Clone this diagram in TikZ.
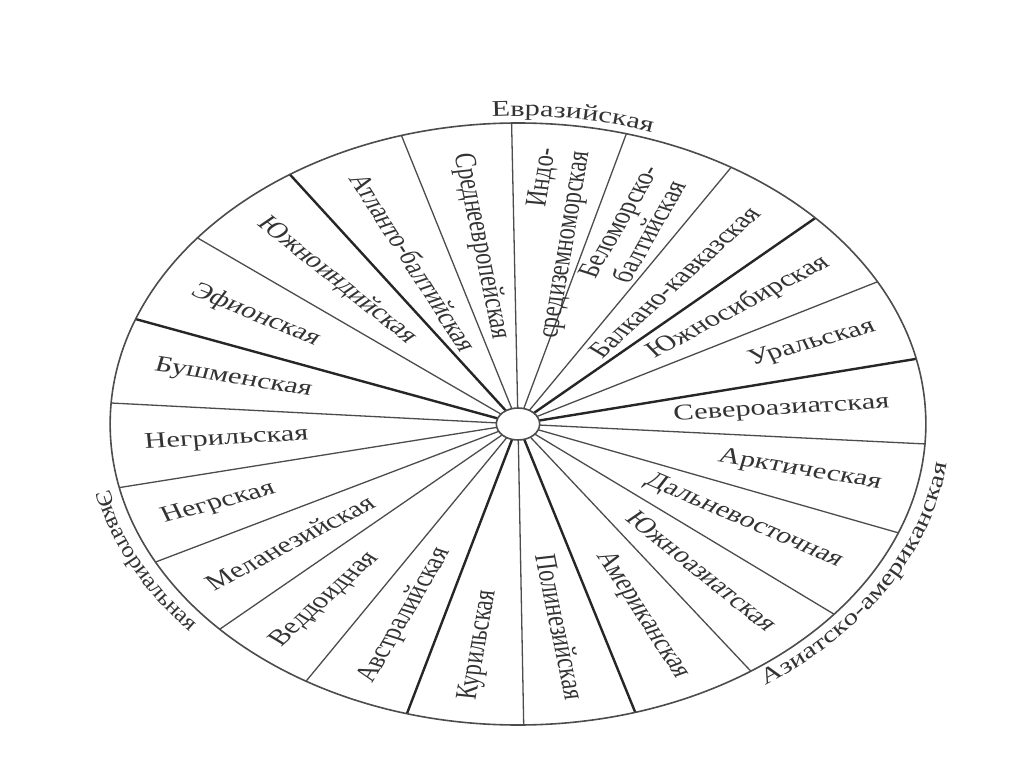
\documentclass[tikz,border=0pt]{standalone}
\usepackage{fontspec}
\setmainfont{Liberation Serif}
\newfontfamily\eurfont[FakeStretch=1.35]{Liberation Serif}
\newfontfamily\asfont[FakeStretch=1.3]{Liberation Serif}
\newfontfamily\eqfont[FakeStretch=1.1]{Liberation Serif}
\usetikzlibrary{decorations.text}
\tikzset{
  lab/.style={font=\fontsize{22.5}{25}\selectfont, text=black!80, inner sep=0pt},
  rim/.style={draw=black!70, line width=1.6pt},
  spokeA/.style={draw=black!70, line width=1.3pt},
  spokeB/.style={draw=black!85, line width=2.4pt},
}
\begin{document}
\begin{tikzpicture}[x=1pt,y=1pt]
\fill[white] (0,-767) rectangle (1024,0);
\useasboundingbox (0,-767) rectangle (1024,0);
\coordinate (C) at (518,-424);
\begin{scope}[shift={(C)}, xscale=1.355, transform shape]
  \coordinate (O) at (0,0);
  \foreach \a/\n in {90.9/1,74.6/2,58.5/3,43.2/4,28.2/5,12.5/6,-3.8/7,-21.2/8,-39.2/9,-55.2/10,-73.3/11,-89.2/12,-105.8/13,-121.3/14,-137.0/15,-152.7/16,-167.8/17,176.0/18,159.6/19,141.8/20,124.0/21,106.6/22}
    \coordinate (s\n) at (\a:301);
  \foreach \n in {1,2,3,5,7,8,9,10,12,14,15,16,17,18,20,22}
    \draw[spokeA] (O) -- (s\n);
  \foreach \n in {4,6,11,13,19,21}
    \draw[spokeB] (O) -- (s\n);
  \draw[rim] (O) circle[radius=301];
  \draw[rim, fill=white] (O) circle[radius=16];
  % right half, reading outward
  \node[lab, rotate=82.75, align=right] (indo) at (82.75:182) {Индо-\\средиземноморская};
  \node[lab, rotate=66.55, align=center] (belo) at (66.55:215) {Беломорско-\\балтийская};
  \node[lab, rotate=50.85] (balk) at (50.85:183) {Балкано-кавказская};
  \node[lab, rotate=35.7] (usib) at (35.7:200) {Южносибирская};
  \node[lab, rotate=20.35] (ural) at (20.35:231.6) {Уральская};
  \node[lab, rotate=4.35] (nasia) at (4.35:195) {Североазиатская};
  \node[lab, rotate=-12.5] (arct) at (-12.5:213) {Арктическая};
  \node[lab, rotate=-30.2] (fareast) at (-30.2:193) {Дальневосточная};
  \node[lab, rotate=-47.2] (sasia) at (-47.2:200) {Южноазиатская};
  \node[lab, rotate=-64.25] (amer) at (-64.25:212) {Американская};
  \node[lab, rotate=-81.25] (poly) at (-81.25:205) {Полинезийская};
  % left half, reading inward
  \node[lab, rotate=82.5] (kuril) at (-97.5:223) {Курильская};
  \node[lab, rotate=66.45] (austr) at (-113.55:209) {Австралийская};
  \node[lab, rotate=50.85] (vedd) at (-129.15:226) {Веддоидная};
  \node[lab, rotate=35.15] (melan) at (-144.85:206) {Меланезийская};
  \node[lab, rotate=19.75] (negr) at (-160.25:235) {Негрская};
  \node[lab, rotate=4.1] (negril) at (184.1:215.6) {Негрильская};
  \node[lab, rotate=-12.2] (bush) at (167.8:215) {Бушменская};
  \node[lab, rotate=-29.3] (efi) at (150.7:222) {Эфионская};
  \node[lab, rotate=-47.1] (sind) at (132.9:196) {Южноиндийская};
  \node[lab, rotate=-64.7] (atl) at (115.3:179) {Атланто-балтийская};
  \node[lab, rotate=-81.25] (ceur) at (98.75:180) {Среднеевропейская};
\end{scope}
% outer curved labels
\path[decorate, decoration={text along path, text color=black!80,
  text={|\eurfont\fontsize{22.5}{25}\selectfont|Евразийская}, text align=left}]
  ([shift={(C)}]93.6:417.3pt and 308pt) arc[start angle=93.6, end angle=20, x radius=417.3pt, y radius=308pt];
\path[decorate, decoration={text along path, text color=black!80,
  text={|\asfont\fontsize{22.5}{25}\selectfont|Азиатско-американская}, text align=left}]
  ([shift={(C)}]-55:432.2pt and 319pt) arc[start angle=-55, end angle=20, x radius=432.2pt, y radius=319pt];
\path[decorate, decoration={text along path, text color=black!80,
  text={|\eqfont\fontsize{22.5}{25}\selectfont|Экваториальная}, text align=left}]
  ([shift={(C)}]192.5:432.2pt and 319pt) arc[start angle=192.5, end angle=260, x radius=432.2pt, y radius=319pt];
\end{tikzpicture}
\end{document}
